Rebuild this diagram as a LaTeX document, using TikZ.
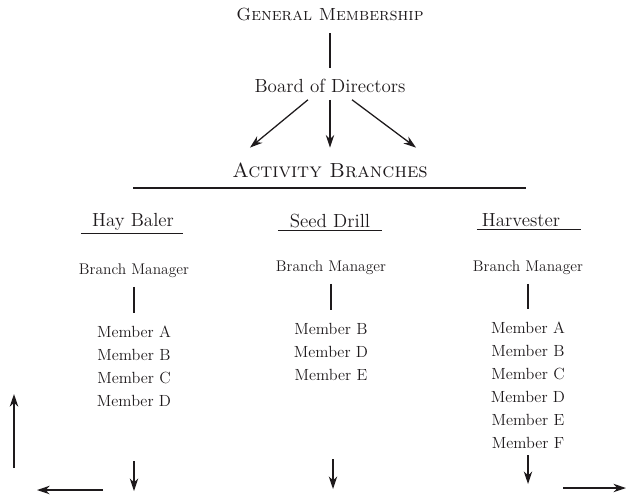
\documentclass[tikz,border=0pt]{standalone}
\usepackage{tikz}
\usetikzlibrary{arrows.meta,positioning}

\definecolor{ink}{HTML}{1E1A1C}

\tikzset{
  title/.style={text=ink,font=\fontsize{12.5}{14}\selectfont\scshape},
  board/.style={text=ink,font=\fontsize{13.5}{16}\selectfont},
  branch/.style={text=ink,font=\fontsize{13.5}{16}\selectfont},
  manager/.style={text=ink,font=\fontsize{11}{13}\selectfont},
  member/.style={text=ink,font=\fontsize{11.5}{13}\selectfont,inner sep=1pt},
  rule/.style={draw=ink,line width=0.8pt},
  link/.style={rule,shorten <=0.1cm,shorten >=0.28cm},
  arr/.style={draw=ink,line width=0.9pt,-{Stealth[length=9pt,width=6pt]}}
}

\begin{document}
\begin{tikzpicture}[x=0.025cm,y=-0.025cm,node distance=0.575cm]
              \useasboundingbox (0,0) rectangle (643,496);

              \node[title] (gm) at (330,14) {General Membership};
              \node[board] (bd) at (330,86) {Board of Directors};
              \node[title,font=\fontsize{14.5}{16}\selectfont\scshape] (ab) at (330,170) {Activity Branches};

              \draw[rule,shorten <=0.2cm,shorten >=0.15cm] (gm) -- (bd);
              \draw[arr] ([xshift=-0.55cm,yshift=-0.05cm]bd.south) -- ([xshift=-2cm,yshift=0.25cm]ab.north);
              \draw[arr] ([yshift=-0.05cm]bd.south) -- ([yshift=0.25cm]ab.north);
              \draw[arr] ([xshift=0.55cm,yshift=-0.05cm]bd.south) -- ([xshift=2.15cm,yshift=0.25cm]ab.north);

              \coordinate (barl) at (133,188);
              \coordinate (barr) at (526,188);
              \draw[rule] (barl) -- (barr);

              % hay baler
              \node[branch] (hb) at (133,222) {Hay Baler};
              \draw[rule] ([xshift=-1.3cm,yshift=0.05cm]hb.south) -- ([xshift=1.25cm,yshift=0.05cm]hb.south);
              \node[manager] (hbm) at (134,271) {Branch Manager};
              \node[member] (hma) at (134,332) {Member A};
              \node[member] (hmb) [below of=hma] {Member B};
              \node[member] (hmc) [below of=hmb] {Member C};
              \node[member] (hmd) [below of=hmc] {Member D};
              \draw[link] (hbm) -- (hma);

              % seed drill
              \node[branch] (sd) at (330,221) {Seed Drill};
              \draw[rule] ([xshift=-1.3cm,yshift=0.05cm]sd.south) -- ([xshift=1.3cm,yshift=0.05cm]sd.south);
              \node[manager] (sdm) at (331,268) {Branch Manager};
              \node[member] (smb) at (331,329) {Member B};
              \node[member] (smd) [below of=smb] {Member D};
              \node[member] (sme) [below of=smd] {Member E};
              \draw[link] (sdm) -- (smb);

              % harvester
              \node[branch] (hv) at (521,220) {Harvester};
              \draw[rule] ([xshift=-1.1cm,yshift=0.05cm]hv.south) -- ([xshift=1.5cm,yshift=0.05cm]hv.south);
              \node[manager] (hvm) at (528,268) {Branch Manager};
              \node[member] (vma) at (528,328) {Member A};
              \node[member] (vmb) [below of=vma] {Member B};
              \node[member] (vmc) [below of=vmb] {Member C};
              \node[member] (vmd) [below of=vmc] {Member D};
              \node[member] (vme) [below of=vmd] {Member E};
              \node[member] (vmf) [below of=vme] {Member F};
              \draw[link] (hvm) -- (vma);

              % loose arrows at the foot
              \coordinate (up1) at (14,468);
              \coordinate (up2) at (14,394);
              \coordinate (lf1) at (103,490);
              \coordinate (lf2) at (37,490);
              \coordinate (hd1) at (134,461);
              \coordinate (hd2) at (134,491);
              \coordinate (sd1) at (333,459);
              \coordinate (sd2) at (333,489);
              \coordinate (vd1) at (528,455);
              \coordinate (vd2) at (528,484);
              \coordinate (rt1) at (563,488);
              \coordinate (rt2) at (626,488);
              \begin{scope}[arr]
                  \draw (up1) -- (up2);
                  \draw (lf1) -- (lf2);
                  \draw (hd1) -- (hd2);
                  \draw (sd1) -- (sd2);
                  \draw (vd1) -- (vd2);
                  \draw (rt1) -- (rt2);
              \end{scope}

          \end{tikzpicture}
\end{document}
